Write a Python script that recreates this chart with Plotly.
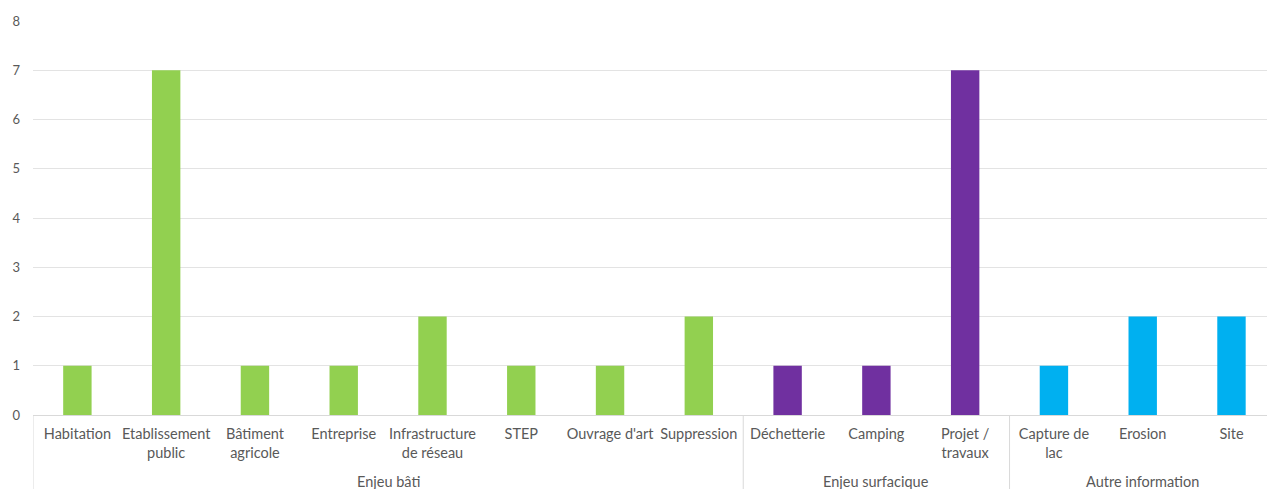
import plotly.graph_objects as go

# Categories, their groups and counts
categories = [
    "Habitation", "Etablissement<br>public", "Bâtiment<br>agricole", "Entreprise",
    "Infrastructure<br>de réseau", "STEP", "Ouvrage d'art", "Suppression",
    "Déchetterie", "Camping", "Projet /<br>travaux",
    "Capture de<br>lac", "Erosion", "Site",
]
groups = ["Enjeu bâti"] * 8 + ["Enjeu surfacique"] * 3 + ["Autre information"] * 3
values = [1, 7, 1, 1, 2, 1, 1, 2, 1, 1, 7, 1, 2, 2]
group_names = ["Enjeu bâti", "Enjeu surfacique", "Autre information"]

group_colors = {
    "Enjeu bâti": "#92d050",
    "Enjeu surfacique": "#7030a0",
    "Autre information": "#00b0f0",
}
colors = [group_colors[g] for g in groups]

font_family = "Lato, 'Open Sans', sans-serif"
text_color = "#595959"
line_color = "#d9d9d9"

fig = go.Figure(
    go.Bar(
        x=categories,
        y=values,
        marker=dict(color=colors, line=dict(width=0)),
        width=0.32,
    )
)

# Group boundaries (category index positions) and group label placement
bounds = [-0.5]
for name in group_names:
    bounds.append(bounds[-1] + groups.count(name))

for i, name in enumerate(group_names):
    fig.add_annotation(
        x=(bounds[i] + bounds[i + 1]) / 2,
        y=-0.17,
        xref="x",
        yref="paper",
        text=name,
        showarrow=False,
        xanchor="center",
        yanchor="middle",
        font=dict(family=font_family, size=14.5, color=text_color),
    )

for b in bounds[:-1]:
    fig.add_shape(
        type="line",
        xref="x",
        yref="paper",
        x0=b,
        x1=b,
        y0=0,
        y1=-0.25,
        line=dict(color=line_color, width=1),
    )

fig.update_layout(
    width=1267,
    height=489,
    margin=dict(l=33, r=0, t=21, b=74),
    paper_bgcolor="white",
    plot_bgcolor="white",
    showlegend=False,
    font=dict(family=font_family, size=14.5, color=text_color),
)

fig.update_xaxes(
    type="category",
    range=[-0.5, 13.4],
    showline=True,
    linecolor=line_color,
    linewidth=1,
    showgrid=False,
    ticks="",
    ticklabelstandoff=6,
    tickangle=0,
    tickfont=dict(size=14.5, color=text_color),
)

fig.update_yaxes(
    range=[0, 8],
    dtick=1,
    showgrid=True,
    gridcolor="#e3e3e3",
    gridwidth=1,
    zeroline=False,
    showline=False,
    ticklabelstandoff=12,
    tickfont=dict(size=13, color=text_color),
)

fig.write_html("out.html")
